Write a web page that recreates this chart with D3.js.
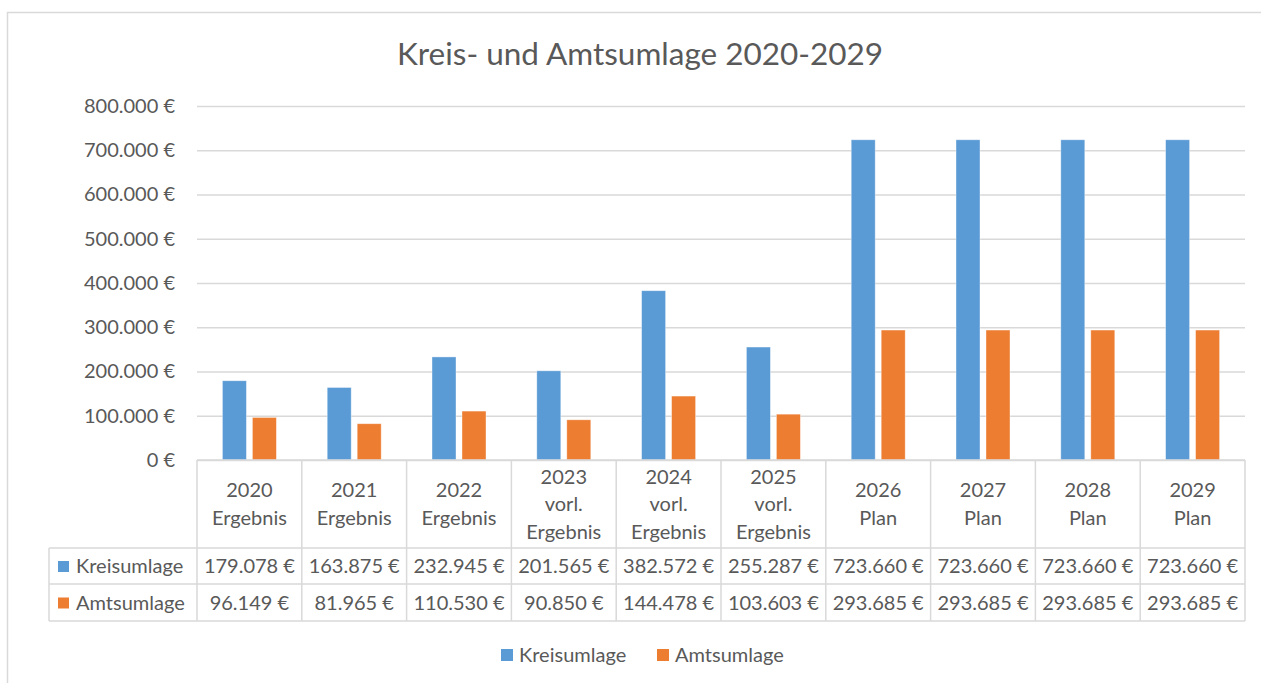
<!DOCTYPE html>
<html>
<head>
<meta charset="utf-8">
<script src="https://cdn.jsdelivr.net/npm/d3@7"></script>
<style>
  body { margin: 0; background: #fff; }
  text { font-family: Lato, "Open Sans", sans-serif; fill: #595959; }
</style>
</head>
<body>
<div class="chart"></div>
<script>
const FRAME_WIDTH = 1261;
const FRAME_HEIGHT = 683;
const PLOT = {left: 197, right: 1245, top: 106, bottom: 460};

// data
const years = ["2020", "2021", "2022", "2023", "2024", "2025", "2026", "2027", "2028", "2029"];
const status = ["Ergebnis", "Ergebnis", "Ergebnis", "vorl.|Ergebnis", "vorl.|Ergebnis", "vorl.|Ergebnis",
    "Plan", "Plan", "Plan", "Plan"];
const kreisumlage = [179078, 163875, 232945, 201565, 382572, 255287, 723660, 723660, 723660, 723660];
const amtsumlage = [96149, 81965, 110530, 90850, 144478, 103603, 293685, 293685, 293685, 293685];
const seriesNames = ["Kreisumlage", "Amtsumlage"];
const seriesColors = ["#5B9BD5", "#ED7D31"];
const yTicks = [0, 100000, 200000, 300000, 400000, 500000, 600000, 700000, 800000];

const GRID = "#D9D9D9";
const FONT = "20px";

const euro = (v) => d3.format(",")(v).replace(/,/g, ".") + " €";

const FRAME = d3.select(".chart")
    .append("svg")
    .attr("width", FRAME_WIDTH)
    .attr("height", FRAME_HEIGHT);

// outer chart border
FRAME.append("rect")
    .attr("x", 7.5).attr("y", 12.5)
    .attr("width", 1300).attr("height", 700)
    .attr("fill", "none")
    .attr("stroke", GRID)
    .attr("stroke-width", 1.5);

// title
FRAME.append("text")
    .attr("x", 640).attr("y", 65)
    .attr("text-anchor", "middle")
    .attr("font-size", "31.5px")
    .text("Kreis- und Amtsumlage 2020-2029");

const xScale = d3.scaleBand().domain(years).range([PLOT.left, PLOT.right]);
const yScale = d3.scaleLinear().domain([0, 800000]).range([PLOT.bottom, PLOT.top]);
const xInner = d3.scaleBand().domain(seriesNames)
    .range([0, xScale.bandwidth()])
    .paddingInner(0.2).paddingOuter(0.847);

// gridlines + y labels
const yAxis = FRAME.append("g")
    .attr("transform", "translate(" + PLOT.left + ",0)")
    .call(d3.axisLeft(yScale).tickValues(yTicks).tickSize(-(PLOT.right - PLOT.left))
        .tickPadding(22).tickFormat(euro));
yAxis.select(".domain").remove();
yAxis.selectAll("line").attr("stroke", GRID).attr("stroke-width", 1.5);
yAxis.selectAll("text")
    .attr("font-size", FONT)
    .attr("font-family", "Lato, sans-serif")
    .attr("fill", "#595959");

// bars
const rows = [kreisumlage, amtsumlage];
rows.forEach((vals, si) => {
    FRAME.selectAll(".bar" + si)
        .data(years)
        .enter().append("rect")
        .attr("class", "bar" + si)
        .attr("x", (d) => xScale(d) + xInner(seriesNames[si]))
        .attr("y", (d, i) => yScale(vals[i]))
        .attr("width", xInner.bandwidth())
        .attr("height", (d, i) => PLOT.bottom - yScale(vals[i]))
        .attr("fill", seriesColors[si])
        .attr("stroke", "#fff")
        .attr("stroke-opacity", 0.5)
        .attr("stroke-width", 0.75);
});

// data table
const TABLE = {left: 49, header: 548, row1: 584, row2: 621};
const tbl = FRAME.append("g").attr("stroke", GRID).attr("stroke-width", 1.5);

// horizontal lines
tbl.append("line").attr("x1", PLOT.left).attr("x2", PLOT.right)
    .attr("y1", PLOT.bottom).attr("y2", PLOT.bottom);
[TABLE.header, TABLE.row1, TABLE.row2].forEach((y) => {
    tbl.append("line").attr("x1", TABLE.left).attr("x2", PLOT.right)
        .attr("y1", y).attr("y2", y);
});
// vertical lines
tbl.append("line").attr("x1", TABLE.left).attr("x2", TABLE.left)
    .attr("y1", TABLE.header).attr("y2", TABLE.row2);
years.forEach((d) => {
    tbl.append("line").attr("x1", xScale(d)).attr("x2", xScale(d))
        .attr("y1", PLOT.bottom).attr("y2", TABLE.row2);
});
tbl.append("line").attr("x1", PLOT.right).attr("x2", PLOT.right)
    .attr("y1", PLOT.bottom).attr("y2", TABLE.row2);

// header labels
years.forEach((d, i) => {
    const lines = [d].concat(status[i].split("|"));
    const mid = (PLOT.bottom + TABLE.header) / 2;
    const lh = 27.5;
    const t = FRAME.append("text")
        .attr("text-anchor", "middle")
        .attr("font-size", FONT);
    lines.forEach((l, j) => {
        t.append("tspan")
            .attr("x", xScale(d) + xScale.bandwidth() / 2)
            .attr("y", mid + (j - (lines.length - 1) / 2) * lh + 7)
            .text(l);
    });
});

// value rows
const rowMids = [(TABLE.header + TABLE.row1) / 2, (TABLE.row1 + TABLE.row2) / 2];
rows.forEach((vals, si) => {
    FRAME.selectAll(".val" + si)
        .data(years)
        .enter().append("text")
        .attr("class", "val" + si)
        .attr("x", (d) => xScale(d) + xScale.bandwidth() / 2)
        .attr("y", rowMids[si] + 7)
        .attr("text-anchor", "middle")
        .attr("font-size", FONT)
        .text((d, i) => euro(vals[i]));

    FRAME.append("rect")
        .attr("x", 58).attr("y", rowMids[si] - 5)
        .attr("width", 11).attr("height", 11)
        .attr("fill", seriesColors[si]);
    FRAME.append("text")
        .attr("x", 76).attr("y", rowMids[si] + 7)
        .attr("font-size", FONT)
        .text(seriesNames[si]);
});

// legend
const legendX = [501, 657];
seriesNames.forEach((s, i) => {
    FRAME.append("rect")
        .attr("x", legendX[i]).attr("y", 649)
        .attr("width", 12).attr("height", 12)
        .attr("fill", seriesColors[i]);
    FRAME.append("text")
        .attr("x", legendX[i] + 18).attr("y", 662)
        .attr("font-size", FONT)
        .text(s);
});
</script>
</body>
</html>
